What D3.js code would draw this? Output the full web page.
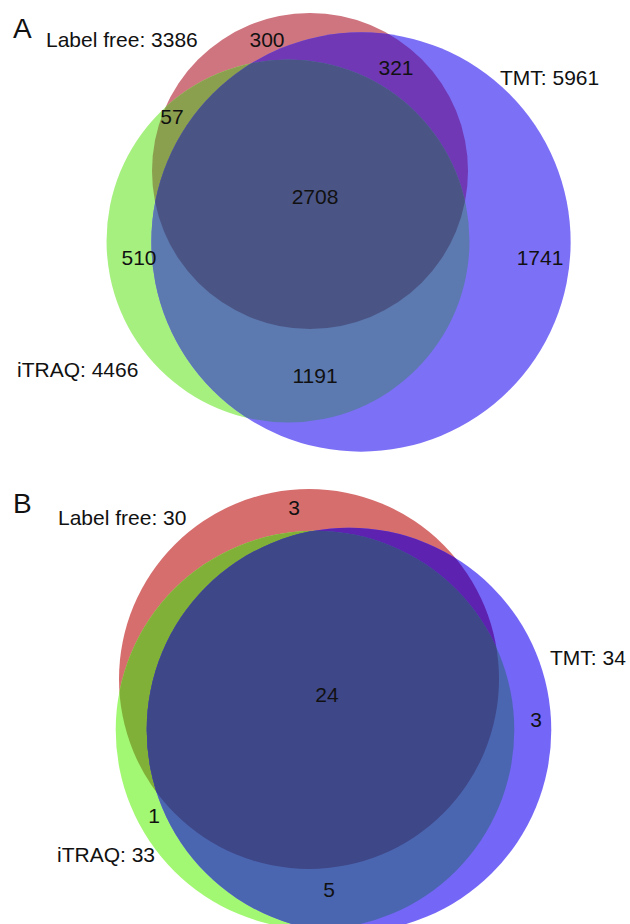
<!DOCTYPE html>
<html>
<head>
<meta charset="utf-8">
<script src="https://cdn.jsdelivr.net/npm/d3@7"></script>
<style>
  html, body { margin: 0; padding: 0; background: #fff; }
  svg { display: block; }
  text { font-family: "Liberation Sans", Arial, Helvetica, sans-serif; fill: #111; }
</style>
</head>
<body>
<svg id="chart" width="630" height="924"></svg>
<script>
// ---------------- DATA ----------------
const setNames = ["Label free", "iTRAQ", "TMT"];
const setTotalsA = [3386, 4466, 5961];
const setTotalsB = [30, 33, 34];
// region keys: which sets each labelled region belongs to
const regionKeysA = ["LF", "LF&TMT", "LF&iTRAQ", "LF&iTRAQ&TMT", "iTRAQ", "TMT", "iTRAQ&TMT"];
const regionCountsA = [300, 321, 57, 2708, 510, 1741, 1191];
const regionKeysB = ["LF", "LF&iTRAQ&TMT", "TMT", "iTRAQ", "iTRAQ&TMT"];
const regionCountsB = [3, 24, 3, 1, 5];
const panelLetters = ["A", "B"];

// ---------------- LAYOUT / STYLE ----------------
const layout = [
  {
    letter: [13, 38],
    // circle centres (Label free, iTRAQ, TMT)
    centers: [[310, 171], [288, 241], [361, 242]],
    refRadius: 158,             // radius of Label free circle
    setLabelPos: [[46, 47], [17, 377], [500, 85]],
    regionPos: [[267, 47], [396, 75], [172, 124], [315, 204], [139, 265], [540, 265], [315, 383]],
    colors: {
      r: "#cf757f", g: "#a6f080", b: "#7c70f6",
      rb: "#7038b4", rg: "#8ba04e", gb: "#5c7ab0", rgb: "#4b5585"
    }
  },
  {
    letter: [13, 513],
    centers: [[309, 679], [315, 730], [349, 730]],
    refRadius: 190,
    setLabelPos: [[58, 525], [57, 862], [550, 665]],
    regionPos: [[294, 515], [327, 702], [536, 727], [154, 823], [329, 897]],
    colors: {
      r: "#d66e6e", g: "#a2f872", b: "#7466f6",
      rb: "#5e22b0", rg: "#80b038", gb: "#4b66b0", rgb: "#3e4788"
    }
  }
];

const svg = d3.select("#chart");
const defs = svg.append("defs");

const panels = [
  { totals: setTotalsA, keys: regionKeysA, counts: regionCountsA },
  { totals: setTotalsB, keys: regionKeysB, counts: regionCountsB }
];

panels.forEach((p, pi) => {
  const L = layout[pi];
  // radius proportional to sqrt of set size (area-proportional)
  const rScale = d3.scaleSqrt().domain([0, p.totals[0]]).range([0, L.refRadius]);
  const circles = p.totals.map((t, i) => ({ cx: L.centers[i][0], cy: L.centers[i][1], r: rScale(t) }));

  const ids = ["lf", "it", "tm"].map(s => `clip-${pi}-${s}`);
  circles.forEach((c, i) => {
    defs.append("clipPath").attr("id", ids[i])
      .append("circle").attr("cx", c.cx).attr("cy", c.cy).attr("r", c.r);
  });

  const g = svg.append("g");
  const C = L.colors;
  const drawCircle = (sel, c, fill) =>
    sel.append("circle").attr("cx", c.cx).attr("cy", c.cy).attr("r", c.r).attr("fill", fill);

  // single sets
  drawCircle(g, circles[0], C.r);
  drawCircle(g, circles[1], C.g);
  drawCircle(g, circles[2], C.b);
  // pairwise overlaps
  drawCircle(g.append("g").attr("clip-path", `url(#${ids[0]})`), circles[1], C.rg);
  drawCircle(g.append("g").attr("clip-path", `url(#${ids[0]})`), circles[2], C.rb);
  drawCircle(g.append("g").attr("clip-path", `url(#${ids[1]})`), circles[2], C.gb);
  // triple overlap
  drawCircle(
    g.append("g").attr("clip-path", `url(#${ids[0]})`)
     .append("g").attr("clip-path", `url(#${ids[1]})`),
    circles[2], C.rgb);

  // panel letter
  svg.append("text").attr("x", L.letter[0]).attr("y", L.letter[1])
    .attr("font-size", 28).text(panelLetters[pi]);

  // set labels
  setNames.forEach((n, i) => {
    svg.append("text").attr("x", L.setLabelPos[i][0]).attr("y", L.setLabelPos[i][1])
      .attr("font-size", 21).text(`${n}: ${p.totals[i]}`);
  });

  // region counts
  p.counts.forEach((v, i) => {
    svg.append("text").attr("x", L.regionPos[i][0]).attr("y", L.regionPos[i][1])
      .attr("text-anchor", "middle").attr("font-size", 21).text(v);
  });
});
</script>
</body>
</html>
